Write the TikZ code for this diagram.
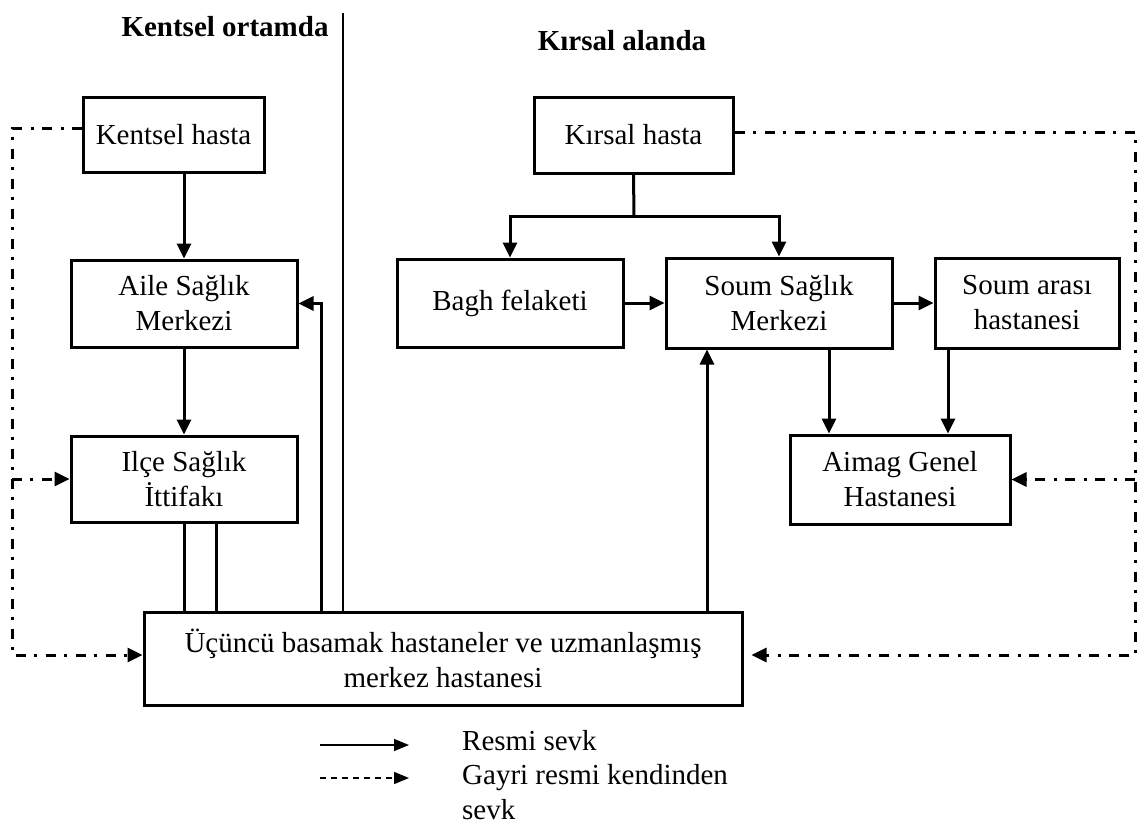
\documentclass[tikz,border=0pt]{standalone}
\usepackage{fontspec}
\setmainfont{Liberation Serif}
\usetikzlibrary{arrows.meta}
\begin{document}
\begin{tikzpicture}[x=1pt,y=-1pt,
  blk/.style={draw, line width=3pt, inner sep=0pt, align=center, font=\fontsize{29}{35}\selectfont},
  con/.style={line width=3pt},
  arr/.style={con, -{Triangle[length=15pt,width=14pt]}},
  dd/.style={line width=3pt, dash pattern=on 10pt off 8pt on 3pt off 9pt},
  ddarr/.style={dd, -{Triangle[length=15pt,width=14pt]}},
  hdr/.style={font=\fontsize{29}{35}\selectfont\bfseries, inner sep=0pt, anchor=base},
  leg/.style={font=\fontsize{29}{35}\selectfont, inner sep=0pt, anchor=base west},
  legarr/.style={line width=1.5pt, -{Triangle[length=15pt,width=12pt]}},
]
\useasboundingbox (0,0) rectangle (1138,836);

% headers
\node[hdr] (h1) at (225,36) {Kentsel ortamda};
\node[hdr] (h2) at (622,50) {Kırsal alanda};

% boxes
\node[blk, minimum width=181pt, minimum height=75pt] (kh) at (173.5,134.5) {Kentsel hasta};
\node[blk, minimum width=226pt, minimum height=87pt] (aile) at (184,303.5) {Aile Sağlık\\Merkezi};
\node[blk, minimum width=226pt, minimum height=86pt] (ilce) at (184,479) {Ilçe Sağlık\\İttifakı};
\node[blk, minimum width=199pt, minimum height=76pt] (krh) at (633.5,135) {Kırsal hasta};
\node[blk, minimum width=226pt, minimum height=88pt] (bagh) at (510,303) {Bagh felaketi};
\node[blk, minimum width=226pt, minimum height=90pt] (soum) at (779,303) {Soum Sağlık\\Merkezi};
\node[blk, minimum width=184pt, minimum height=90pt] (sar) at (1027,303) {Soum arası\\hastanesi};
\node[blk, minimum width=220pt, minimum height=89pt] (aim) at (900,479.5) {Aimag Genel\\Hastanesi};
\node[blk, minimum width=598pt, minimum height=93pt] (ucu) at (443,658.5) {Üçüncü basamak hastaneler ve uzmanlaşmış\\merkez hastanesi};

% divider
\coordinate (divtop) at (343,13);
\draw[line width=1.4pt] (divtop) -- (divtop |- ucu.north);

% urban solid connectors
\draw[arr] (kh.south -| aile.north) -- (aile.north);
\draw[arr] (aile) -- (ilce);
\draw[con] (ilce.south) -- (ilce.south |- ucu.north);
\draw[con] ([xshift=32pt]ilce.south) -- ([xshift=32pt]ilce.south |- ucu.north);
\draw[arr] ([xshift=-122pt]ucu.north) |- (aile.east);

% rural solid connectors
\coordinate (kj) at (634,216);
\draw[con] (krh.south) -- (kj);
\draw[arr] (kj) -| (bagh.north);
\draw[arr] (kj) -| (soum.north);
\draw[arr] (bagh) -- (soum);
\draw[arr] (soum) -- (sar);
\draw[arr] ([xshift=50pt]soum.south) -- ([xshift=50pt]soum.south |- aim.north);
\draw[arr] ([xshift=-79pt]sar.south) -- ([xshift=-79pt]sar.south |- aim.north);
\draw[arr] ([xshift=264pt]ucu.north) -- ([xshift=264pt]ucu.north |- soum.south);

% informal (dash-dot) connectors
\coordinate (l1) at (12,128);
\coordinate (l2) at (12,655);
\draw[ddarr] (kh.west |- l1) -- (l1) -- (l2) -- (ucu.west |- l2);
\draw[ddarr] (l1 |- ilce.west) -- (ilce.west);
\coordinate (r1) at (1135,132);
\coordinate (r2) at (1135,655);
\draw[ddarr] (krh.east |- r1) -- (r1) -- (r2) -- ([xshift=8pt]ucu.east |- r2);
\draw[ddarr] (r1 |- aim.east) -- (aim.east);

% legend
\coordinate (ls1) at (320,745);
\coordinate (le1) at (409,745);
\coordinate (ls2) at (320,778);
\coordinate (le2) at (409,778);
\draw[legarr] (ls1) -- (le1);
\draw[legarr, dash pattern=on 6pt off 5pt] (ls2) -- (le2);
\node[leg] (lt1) at (462,750) {Resmi sevk};
\node[leg] (lt2) at (462,784) {Gayri resmi kendinden};
\node[leg] (lt3) at (462,819) {sevk};
\end{tikzpicture}
\end{document}
